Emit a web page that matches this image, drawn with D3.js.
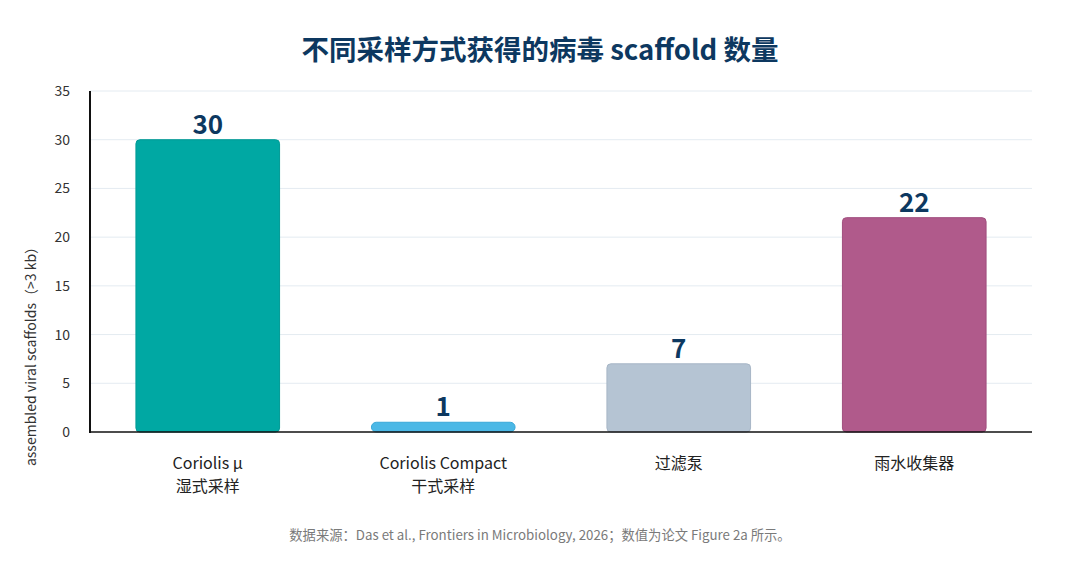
<!DOCTYPE html>
<html><head><meta charset="utf-8">
<script src="https://cdn.jsdelivr.net/npm/d3@7"></script>
<style>
body{margin:0;background:#fff;font-family:"Noto Sans CJK SC","Noto Sans",sans-serif;}
</style></head>
<body><svg id="c" width="1080" height="570"></svg>
<script>
const categories = ["Coriolis μ|湿式采样","Coriolis Compact|干式采样","过滤泵","雨水收集器"];
const values = [30, 1, 7, 22];
const colors = ["#00a8a3","#4bb8e6","#b5c4d3","#b05a8b"];
const strokes = ["#009a95","#3aa8d8","#a7b6c6","#a04e7e"];
const yTicks = [0,5,10,15,20,25,30,35];
const title = "不同采样方式获得的病毒 scaffold 数量";
const yLabel = "assembled viral scaffolds（>3 kb）";
const footer = "数据来源：Das et al., Frontiers in Microbiology, 2026；数值为论文 Figure 2a 所示。";

const svg = d3.select("#c");
const m = {l:90, r:1032, t:91, b:432};
const x = d3.scaleBand().domain(categories).range([m.l, m.r]).paddingInner(0.39).paddingOuter(0.195);
const y = d3.scaleLinear().domain([0,35]).range([m.b, m.t]);

svg.append("text").attr("x",540).attr("y",60).attr("text-anchor","middle")
  .attr("font-size",27.5).attr("font-weight",700).attr("fill","#0d3860").text(title);

// grid
svg.append("g").selectAll("line").data(yTicks.filter(d=>d>0)).join("line")
  .attr("x1",m.l).attr("x2",m.r).attr("y1",d=>y(d)).attr("y2",d=>y(d))
  .attr("stroke","#e4ebf1").attr("stroke-width",1);

// y tick labels
svg.append("g").selectAll("text").data(yTicks).join("text")
  .attr("x",70).attr("y",d=>y(d)+5).attr("text-anchor","end")
  .attr("font-size",14).attr("fill","#333").text(d=>d);

svg.append("text").attr("transform","translate(36,353) rotate(-90)")
  .attr("text-anchor","middle").attr("font-size",14).attr("fill","#333").text(yLabel);

// bars
const r = 4;
svg.append("g").selectAll("rect").data(values).join("rect")
  .attr("x",(d,i)=>x(categories[i])).attr("width",x.bandwidth())
  .attr("y",d=>y(d)).attr("height",d=>y(0)-y(d))
  .attr("rx",(d)=>Math.min(r+ (d<2?1:0),(y(0)-y(d))/2)).attr("ry",(d)=>Math.min(r+(d<2?1:0),(y(0)-y(d))/2))
  .attr("fill",(d,i)=>colors[i]).attr("stroke",(d,i)=>strokes[i]).attr("stroke-width",1);

// value labels
svg.append("g").selectAll("text").data(values).join("text")
  .attr("x",(d,i)=>x(categories[i])+x.bandwidth()/2).attr("y",d=>y(d)-6)
  .attr("text-anchor","middle").attr("font-size",26).attr("font-weight",700)
  .attr("fill","#0d3860").text(d=>d);

// axes lines
svg.append("line").attr("x1",m.l).attr("x2",m.l).attr("y1",m.t).attr("y2",m.b+1)
  .attr("stroke","#111").attr("stroke-width",2);
svg.append("line").attr("x1",m.l-1).attr("x2",m.r).attr("y1",m.b).attr("y2",m.b)
  .attr("stroke","#111").attr("stroke-width",1.5);

// x labels
const xl = svg.append("g").selectAll("text").data(categories).join("text")
  .attr("x",d=>x(d)+x.bandwidth()/2).attr("y",469).attr("text-anchor","middle")
  .attr("font-size",16).attr("fill","#222");
xl.each(function(d){
  const parts = d.split("|");
  d3.select(this).selectAll("tspan").data(parts).join("tspan")
    .attr("x",x(d)+x.bandwidth()/2).attr("dy",(p,i)=>i?23:0).text(p=>p);
});

svg.append("text").attr("x",540).attr("y",540).attr("text-anchor","middle")
  .attr("font-size",13.3).attr("fill","#7a7a7a").text(footer);
</script></body></html>
